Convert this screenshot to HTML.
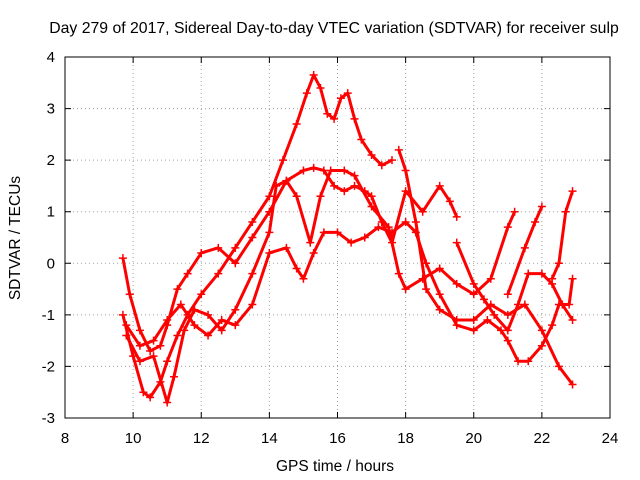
<!DOCTYPE html>
<html><head><meta charset="utf-8"><style>
body{margin:0;background:#fff}
svg{display:block;font-family:"Liberation Sans",sans-serif}
</style></head><body>
<svg width="640" height="480">
<g id="grid"></g>
<g id="series"></g>
<rect x="65" y="57" width="545" height="361" fill="none" stroke="#000" stroke-width="1"/>
<g id="ticks"></g>
<text x="334" y="33" text-anchor="middle" font-size="15.8">Day 279 of 2017, Sidereal Day-to-day VTEC variation (SDTVAR) for receiver sulp</text>
<text x="335" y="471" text-anchor="middle" font-size="15.5">GPS time / hours</text>
<text transform="translate(20,238) rotate(-90)" text-anchor="middle" font-size="15.5">SDTVAR / TECUs</text>
</svg>
<script>
const xTicks=[8,10,12,14,16,18,20,22,24];
const yTicks=[-3,-2,-1,0,1,2,3,4];
const s1t=[9.7,10.0,10.3,10.5,10.8,11.0,11.3,11.6,12.0,12.5,13.0,13.5,14.0,14.4,14.8,15.1,15.3,15.5,15.7,15.9,16.1,16.3,16.5,16.7,17.0,17.3,17.6];
const s1v=[-1.0,-1.8,-2.5,-2.6,-2.3,-1.9,-1.4,-1.0,-0.6,-0.2,0.3,0.8,1.3,2.0,2.7,3.3,3.65,3.4,2.9,2.8,3.2,3.3,2.8,2.4,2.1,1.9,2.0];
const s2t=[9.7,9.9,10.2,10.5,10.8,11.0,11.3,11.6,12.0,12.5,13.0,13.5,14.0,14.5,15.0,15.3,15.6,15.9,16.2,16.5,16.8,17.0,17.3,17.6,18.0,18.5,19.0,19.3,19.5];
const s2v=[0.1,-0.6,-1.3,-1.7,-1.6,-1.2,-0.5,-0.2,0.2,0.3,0.0,0.5,1.0,1.6,1.8,1.85,1.8,1.5,1.4,1.5,1.4,1.3,0.8,0.4,1.4,1.0,1.5,1.2,0.9];
const s3t=[9.8,10.2,10.6,11.0,11.4,11.8,12.2,12.6,13.0,13.5,14.0,14.5,14.8,15.0,15.3,15.6,16.0,16.4,16.8,17.2,17.6,18.0,18.3,18.6,19.0,19.5,20.0,20.4,20.8,21.0,21.3,21.6,22.0,22.3,22.5,22.8,22.9];
const s3v=[-1.2,-1.6,-1.5,-1.1,-0.8,-1.2,-1.4,-1.1,-1.2,-0.8,0.2,0.3,-0.1,-0.3,0.2,0.6,0.6,0.4,0.5,0.7,0.6,0.8,0.6,0.0,-0.6,-1.2,-1.3,-1.1,-1.3,-1.5,-1.9,-1.9,-1.6,-1.2,-0.8,-0.8,-0.3];
const s4t=[9.8,10.2,10.6,11.0,11.2,11.5,11.8,12.2,12.6,13.0,13.5,14.0,14.2,14.5,14.8,15.2,15.5,15.8,16.2,16.5,17.0,17.5,17.8,18.0,18.5,19.0,19.5,20.0,20.5,21.0,21.2];
const s4v=[-1.4,-1.9,-1.8,-2.7,-2.2,-1.3,-0.9,-1.0,-1.3,-0.9,-0.2,0.6,1.5,1.6,1.3,0.4,1.3,1.8,1.8,1.7,1.1,0.7,-0.2,-0.5,-0.3,-0.1,-0.4,-0.6,-0.3,0.7,1.0];
const s5t=[17.8,18.0,18.3,18.6,19.0,19.5,20.0,20.5,21.0,21.5,22.0,22.5,22.9];
const s5v=[2.2,1.8,0.8,-0.5,-0.9,-1.1,-1.1,-0.8,-1.0,-0.8,-1.3,-2.0,-2.35];
const s6t=[19.5,20.0,20.3,20.6,21.0,21.3,21.6,22.0,22.3,22.6,22.9];
const s6v=[0.4,-0.4,-0.7,-1.0,-1.3,-0.8,-0.2,-0.2,-0.4,-0.8,-1.1];
const s7t=[21.0,21.5,21.8,22.0];
const s7v=[-0.6,0.3,0.8,1.1];
const s8t=[22.3,22.5,22.7,22.9];
const s8v=[-0.3,0.0,1.0,1.4];
const seriesT=[s1t,s2t,s3t,s4t,s5t,s6t,s7t,s8t];
const seriesV=[s1v,s2v,s3v,s4v,s5v,s6v,s7v,s8v];
const X=t=>65+(t-8)*545/16, Y=v=>57+(4-v)*361/7;
const NS="http://www.w3.org/2000/svg";
function mk(tag,attrs,parent){const e=document.createElementNS(NS,tag);for(const k in attrs)e.setAttribute(k,attrs[k]);parent.appendChild(e);return e;}
const grid=document.getElementById('grid'),ticks=document.getElementById('ticks'),ser=document.getElementById('series');
xTicks.forEach(t=>{
 const x=X(t);
 if(t>8&&t<24){const g=mk('line',{x1:x,x2:x,y1:57,y2:418,stroke:'#a0a0a0','stroke-dasharray':'1,3'},grid);
 
 }
 const a=mk('path',{d:`M${x},418v-6M${x},57v6`,stroke:'#000'},ticks);
 
 
 const l=mk('text',{x:x,y:443,'text-anchor':'middle','font-size':'15'},ticks);l.textContent=t;
 
 
});
yTicks.forEach(v=>{
 const y=Y(v);
 if(v>-3&&v<4){const g=mk('line',{x1:65,x2:610,y1:y,y2:y,stroke:'#a0a0a0','stroke-dasharray':'1,3'},grid);
 
 }
 const a=mk('path',{d:`M65,${y}h6M610,${y}h-6`,stroke:'#000'},ticks);
 
 
 const l=mk('text',{x:55,y:y+5,'text-anchor':'end','font-size':'15'},ticks);l.textContent=v;
 
 
});
seriesT.forEach((ts,i)=>{
 const vs=seriesV[i];
 const g=mk('g',{},ser);
 
 
 const pts=ts.map((t,j)=>X(t)+','+Y(vs[j])).join(' ');
 mk('polyline',{points:pts,fill:'none',stroke:'#f00','stroke-width':'3','stroke-linejoin':'round'},g);
 let d='';ts.forEach((t,j)=>{const x=X(t),y=Y(vs[j]);d+=`M${x-4},${y}h8M${x},${y-4}v8`;});
 mk('path',{d:d,stroke:'#f00','stroke-width':'1.5'},g);
});
</script>
</body></html>
